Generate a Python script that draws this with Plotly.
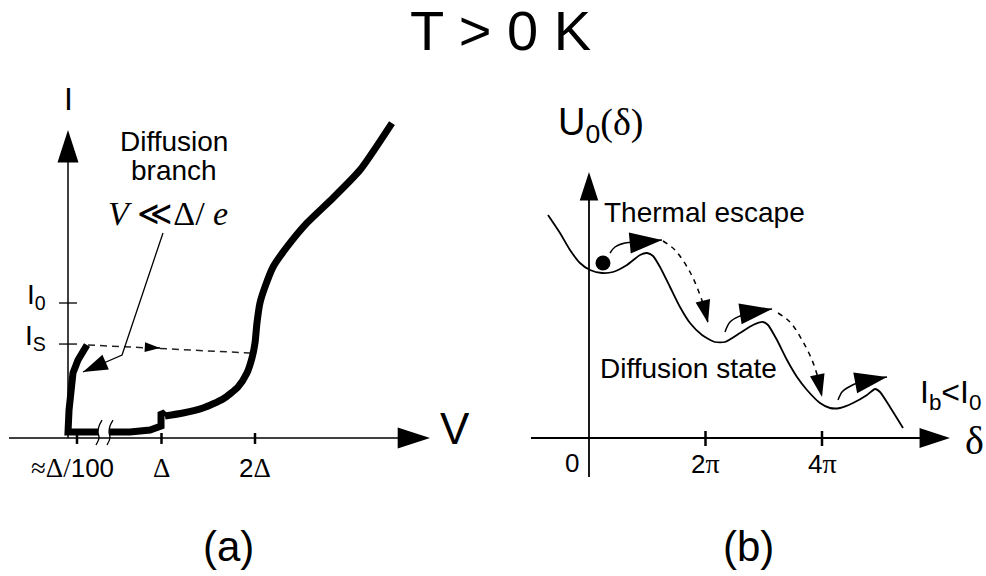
import plotly.graph_objects as go

SANS = "Liberation Sans, Arial, sans-serif"
SERIF = "Liberation Serif, Times New Roman, serif"

# ---------------- Panel (a): I-V characteristic (V in units of Δ, I in units of I0) -------------
iv_branch_v = [0.203, 0.107, 0.053, 0.032, 0.011, 0.0, 0.342, 0.663, 0.877, 0.984, 0.995, 0.995, 1.037]
iv_branch_i = [0.689, 0.578, 0.481, 0.378, 0.207, 0.044, 0.044, 0.044, 0.059, 0.081, 0.089, 0.193, 0.163]
iv_qp_v = [1.037, 1.230, 1.444, 1.658, 1.818, 1.914, 1.968, 2.0, 2.021, 2.053, 2.107, 2.193, 2.342,
           2.556, 2.834, 3.123, 3.465]
iv_qp_i = [0.163, 0.185, 0.222, 0.289, 0.378, 0.481, 0.593, 0.704, 0.852, 1.0, 1.119, 1.267, 1.415,
           1.593, 1.778, 1.985, 2.333]
switch_v = [0.214, 1.947]
switch_i = [0.689, 0.630]
switch_head_v = [0.90, 0.984]
switch_head_i = [0.670, 0.667]
note_v = [1.016, 0.578, 0.160]
note_i = [1.519, 0.615, 0.489]
break1_v = [0.364, 0.332, 0.321, 0.332, 0.299]
break2_v = [0.481, 0.449, 0.439, 0.449, 0.417]
break_i = [0.133, 0.089, 0.044, 0.0, -0.052]
a_xaxis_v = [-0.631, 3.872]
a_yaxis_i = [0.0, 2.281]
a_xtick_pos = [0.096, 1.0, 2.0]
a_xtick_labels = ['<span style="font-family:Liberation Serif;font-size:27px">≈Δ/</span>100',
                  '<span style="font-family:Liberation Serif;font-size:27px">Δ</span>',
                  '2<span style="font-family:Liberation Serif;font-size:27px">Δ</span>']
a_ytick_pos = [1.0, 0.696]
a_ytick_labels = ["I<sub>0</sub>", "I<sub>S</sub>"]

# ---------------- Panel (b): tilted washboard potential (δ in units of π) -------------
pot_d = [-0.704, -0.498, -0.326, -0.155, 0.017, 0.223, 0.412, 0.652, 0.876, 0.996, 1.099, 1.219,
         1.391, 1.562, 1.734, 1.940, 2.163, 2.335, 2.592, 2.815, 2.987, 3.073, 3.227, 3.399, 3.571,
         3.742, 3.966, 4.137, 4.309, 4.532, 4.773, 4.910, 4.996, 5.167, 5.391]
pot_u = [2.23, 2.05, 1.88, 1.75, 1.68, 1.65, 1.66, 1.73, 1.83, 1.85, 1.82, 1.71,
         1.51, 1.31, 1.15, 1.03, 0.96, 0.96, 1.05, 1.13, 1.16, 1.13, 0.98, 0.78, 0.61,
         0.48, 0.35, 0.30, 0.30, 0.35, 0.43, 0.49, 0.46, 0.31, 0.10]
ball_d = [0.240]
ball_u = [1.75]
esc1_d = [0.361, 0.446, 0.618, 0.876, 1.253]
esc1_u = [1.85, 1.91, 1.95, 1.96, 1.98]
esc2_d = [2.335, 2.421, 2.592, 2.798, 3.142]
esc2_u = [1.06, 1.16, 1.22, 1.26, 1.29]
esc3_d = [4.275, 4.343, 4.429, 4.652, 5.116]
esc3_u = [0.38, 0.46, 0.50, 0.56, 0.61]
fall1_d = [1.270, 1.476, 1.734, 1.906, 1.991, 2.043]
fall1_u = [1.97, 1.88, 1.66, 1.43, 1.28, 1.15]
fall2_d = [3.245, 3.451, 3.657, 3.828, 3.931, 4.000]
fall2_u = [1.25, 1.16, 0.98, 0.78, 0.60, 0.41]
b_xaxis_d = [-0.996, 6.197]
b_yaxis_u = [-0.39, 2.66]
b_xtick_pos = [2, 4]
b_xtick_labels = ['2<span style="font-family:Liberation Serif;font-size:28px">π</span>',
                  '4<span style="font-family:Liberation Serif;font-size:28px">π</span>']

fig = go.Figure()


def line(x, y, xa, ya, width=2.0, dash="solid", color="black", shape="linear", smoothing=1.0):
    fig.add_trace(go.Scatter(x=x, y=y, xaxis=xa, yaxis=ya, mode="lines",
                             line=dict(width=width, color=color, dash=dash, shape=shape,
                                       smoothing=smoothing),
                             hoverinfo="skip"))


def arrow(x, y, xa, ya, width=1.5, head=20, dash="solid", shape="linear", color="black"):
    sizes = [0] * (len(x) - 1) + [head]
    fig.add_trace(go.Scatter(x=x, y=y, xaxis=xa, yaxis=ya, mode="lines+markers",
                             line=dict(width=width, color=color, dash=dash, shape=shape),
                             marker=dict(symbol="arrow", size=sizes, angleref="previous",
                                         color="black", opacity=1, line=dict(width=0)),
                             hoverinfo="skip"))


# ---- panel (a) ----
line(iv_branch_v, iv_branch_i, "x", "y", width=7)
line(iv_qp_v, iv_qp_i, "x", "y", width=7, shape="spline", smoothing=0.6)
# axis break
fig.add_trace(go.Scatter(x=break1_v + break2_v[::-1], y=break_i + break_i[::-1], xaxis="x", yaxis="y",
                         mode="lines", fill="toself", fillcolor="white", line=dict(width=0, color="white"),
                         hoverinfo="skip"))
line(break1_v, break_i, "x", "y", width=1.3, shape="spline")
line(break2_v, break_i, "x", "y", width=1.3, shape="spline")
# axes
arrow(a_xaxis_v, [0, 0], "x", "y", width=1.5, head=34)
arrow([0, 0], a_yaxis_i, "x", "y", width=1.5, head=34)
tx, ty = [], []
for p in a_xtick_pos:
    tx += [p, p, None]
    ty += [0.037, -0.044, None]
line(tx, ty, "x", "y", width=2.5)
tx, ty = [], []
for p in a_ytick_pos:
    tx += [-0.096, 0.096, None]
    ty += [p, p, None]
line(tx, ty, "x", "y", width=1.3)
# switching (dashed) line and annotation arrow
line(switch_v, switch_i, "x", "y", width=1.5, dash="7px,5px", color="#222")
arrow(switch_head_v, switch_head_i, "x", "y", width=1.5, head=16)
arrow(note_v, note_i, "x", "y", width=1.3, head=26)

# ---- panel (b) ----
line(pot_d, pot_u, "x2", "y2", width=1.8, shape="spline", smoothing=0.6)
arrow(b_xaxis_d, [0, 0], "x2", "y2", width=1.8, head=32)
arrow([0, 0], b_yaxis_u, "x2", "y2", width=1.8, head=30)
tx, ty = [], []
for p in b_xtick_pos:
    tx += [p, p, None]
    ty += [0.07, -0.08, None]
line(tx, ty, "x2", "y2", width=2.5)
fig.add_trace(go.Scatter(x=ball_d, y=ball_u, xaxis="x2", yaxis="y2", mode="markers",
                         marker=dict(size=15, color="black"), hoverinfo="skip"))
for dx, uy in [(esc1_d, esc1_u), (esc2_d, esc2_u), (esc3_d, esc3_u)]:
    arrow(dx, uy, "x2", "y2", width=1.5, head=34, shape="spline")
for dx, uy in [(fall1_d, fall1_u), (fall2_d, fall2_u)]:
    arrow(dx, uy, "x2", "y2", width=1.5, head=24, dash="5px,5px", shape="spline")

ann = []


def text(s, x, y, xref, yref, size, family=SANS, xanchor="center", yanchor="middle"):
    ann.append(dict(text=s, x=x, y=y, xref=xref, yref=yref, showarrow=False,
                    font=dict(size=size, family=family, color="black"),
                    xanchor=xanchor, yanchor=yanchor))


text("T &gt; 0 K", 500 / 986, 1 - 30 / 576, "paper", "paper", 56)
text("(a)", 228 / 986, 1 - 546 / 576, "paper", "paper", 42)
text("(b)", 748 / 986, 1 - 546 / 576, "paper", "paper", 42)

text("I", 0.0, 2.511, "x", "y", 32)
text("V", 4.139, 0.074, "x", "y", 44)
for lab, p in zip(a_ytick_labels, a_ytick_pos):
    text(lab, -0.214, p + 0.05, "x", "y", 28, xanchor="right")
for lab, p in zip(a_xtick_labels, a_xtick_pos):
    text(lab, p - (0.05 if p < 0.5 else 0), -0.222, "x", "y", 26)
text("Diffusion", 1.134, 2.193, "x", "y", 28)
text("branch", 1.134, 1.985, "x", "y", 28)
text("<i>V</i> ≪Δ/ <i>e</i>", 1.07, 1.66, "x", "y", 34, family=SERIF)

text('U<sub>0</sub><span style="font-family:Liberation Serif;font-size:38px">(δ)</span>',
     0.189, 3.13, "x2", "y2", 38)
text("Thermal escape", 1.991, 2.26, "x2", "y2", 28)
text("Diffusion state", 1.70, 0.70, "x2", "y2", 28)
text("I<sub>b</sub>&lt;I<sub>0</sub>", 5.64, 0.44, "x2", "y2", 32, xanchor="left")
text("δ", 6.61, -0.02, "x2", "y2", 40, family=SERIF)
text("0", -0.292, -0.25, "x2", "y2", 26)
for lab, p in zip(b_xtick_labels, b_xtick_pos):
    text(lab, p, -0.25, "x2", "y2", 26)

fig.update_layout(
    width=986, height=576, margin=dict(l=0, r=0, t=0, b=0),
    paper_bgcolor="white", plot_bgcolor="white", showlegend=False,
    annotations=ann,
    xaxis=dict(domain=[0, 480 / 986], range=[-68 / 93.5, (480 - 68) / 93.5], visible=False,
               anchor="y", fixedrange=True),
    yaxis=dict(domain=[0, 1], range=[(438 - 576) / 135, 438 / 135], visible=False,
               anchor="x", fixedrange=True),
    xaxis2=dict(domain=[480 / 986, 1], range=[(480 - 589) / 58.25, (986 - 589) / 58.25], visible=False,
                anchor="y2", fixedrange=True),
    yaxis2=dict(domain=[0, 1], range=[(438 - 576) / 100, 438 / 100], visible=False,
                anchor="x2", fixedrange=True),
)

fig.write_html("out.html", config={"displayModeBar": False},
               post_script="document.body.style.margin='0px';document.body.style.overflow='hidden';")
